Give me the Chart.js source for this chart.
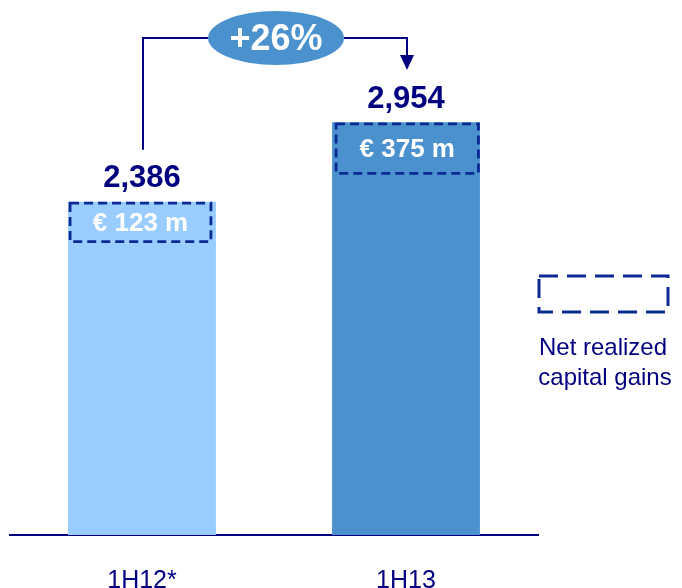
<!DOCTYPE html>
<html>
<head>
<meta charset="utf-8">
<script src="https://cdn.jsdelivr.net/npm/chart.js@4"></script>
<style>
  html, body { margin: 0; padding: 0; background: #fff; }
  #wrap { width: 682px; height: 588px; position: relative; }
</style>
</head>
<body>
<div id="wrap"><canvas id="chart"></canvas></div>
<script>
const categories = ["1H12*", "1H13"];
const totals = [2386, 2954];
const capitalGains = [123, 375];
const growthText = "+26%";
const legendLines = ["Net realized", "capital gains"];

const NAVY = "#000080";
const DASH = "#0b2a94";
const FONT = "'Liberation Sans', Arial, sans-serif";

const fmtTotal = (v) => v.toLocaleString("en-US");

// draws value labels, dashed gain boxes, growth bracket and legend
const annotations = {
    id: "annotations",
    afterDatasetsDraw(chart) {
        const ctx = chart.ctx;
        const bars = chart.getDatasetMeta(0).data;
        const boxHeights = [40, 51];

        ctx.save();

        // dashed boxes at the top of each bar
        bars.forEach((bar, i) => {
            const left = bar.x - bar.width / 2;
            const right = bar.x + bar.width / 2;
            const x0 = left + (i === 0 ? 2 : 4);
            const x1 = right - (i === 0 ? 5 : 1.5);
            const y0 = bar.y + 1.5;
            const y1 = bar.y + boxHeights[i];
            ctx.strokeStyle = DASH;
            ctx.lineWidth = 2.8;
            ctx.setLineDash([9, 5]);
            ctx.strokeRect(x0, y0, x1 - x0, y1 - y0);
            ctx.setLineDash([]);

            ctx.fillStyle = "#ffffff";
            ctx.font = "bold 26px " + FONT;
            ctx.textAlign = "center";
            ctx.textBaseline = "middle";
            ctx.fillText("€ " + capitalGains[i] + " m", (x0 + x1) / 2, (y0 + y1) / 2 + 1);

            // total above the bar
            ctx.fillStyle = NAVY;
            ctx.font = "bold 31px " + FONT;
            ctx.fillText(fmtTotal(totals[i]), bar.x, bar.y - 23);
        });

        // bracket from first bar to second, with the growth ellipse
        const a = bars[0], b = bars[1];
        const lineY = 38;
        const ex = (a.x + b.x) / 2 + 2;
        const rx = 68, ry = 27;
        ctx.strokeStyle = NAVY;
        ctx.lineWidth = 2;
        ctx.beginPath();
        ctx.moveTo(a.x + 1, a.y - 52);
        ctx.lineTo(a.x + 1, lineY);
        ctx.lineTo(ex - rx, lineY);
        ctx.moveTo(ex + rx, lineY);
        ctx.lineTo(b.x + 1, lineY);
        ctx.lineTo(b.x + 1, 56);
        ctx.stroke();

        ctx.fillStyle = NAVY;
        ctx.beginPath();
        ctx.moveTo(b.x - 6, 55);
        ctx.lineTo(b.x + 8, 55);
        ctx.lineTo(b.x + 1, 70);
        ctx.closePath();
        ctx.fill();

        ctx.fillStyle = "#4a91cd";
        ctx.beginPath();
        ctx.ellipse(ex, lineY, rx, ry, 0, 0, Math.PI * 2);
        ctx.fill();
        ctx.fillStyle = "#ffffff";
        ctx.font = "bold 36px " + FONT;
        ctx.textAlign = "center";
        ctx.textBaseline = "middle";
        ctx.fillText(growthText, ex, lineY + 2);

        // legend
        ctx.strokeStyle = DASH;
        ctx.lineWidth = 3;
        ctx.setLineDash([19, 9]);
        ctx.lineDashOffset = 0;
        ctx.strokeRect(539, 276, 129, 36);
        ctx.setLineDash([]);
        ctx.fillStyle = NAVY;
        ctx.font = "24px " + FONT;
        ctx.textAlign = "center";
        ctx.fillText(legendLines[0], 603, 348);
        ctx.fillText(legendLines[1], 605, 378);

        ctx.restore();
    },
};

new Chart(document.getElementById("chart"), {
    type: "bar",
    data: {
        labels: categories,
        datasets: [
            {
                data: totals,
                backgroundColor: ["#99ccff", "#4a91cd"],
                borderWidth: 0,
                barPercentage: 0.56,
                categoryPercentage: 1,
            },
        ],
    },
    options: {
        responsive: true,
        maintainAspectRatio: false,
        animation: false,
        layout: { padding: { left: 10, right: 144, top: 0, bottom: 0 } },
        plugins: {
            legend: { display: false },
            tooltip: { enabled: false },
        },
        scales: {
            x: {
                grid: { display: false, drawTicks: false },
                border: { color: NAVY, width: 2 },
                ticks: {
                    color: NAVY,
                    font: { family: FONT, size: 25 },
                    padding: 31,
                },
                afterFit(axis) {
                    axis.height = 53;
                },
            },
            y: {
                display: false,
                min: 0,
                max: 3830,
            },
        },
    },
    plugins: [annotations],
});
</script>
</body>
</html>
